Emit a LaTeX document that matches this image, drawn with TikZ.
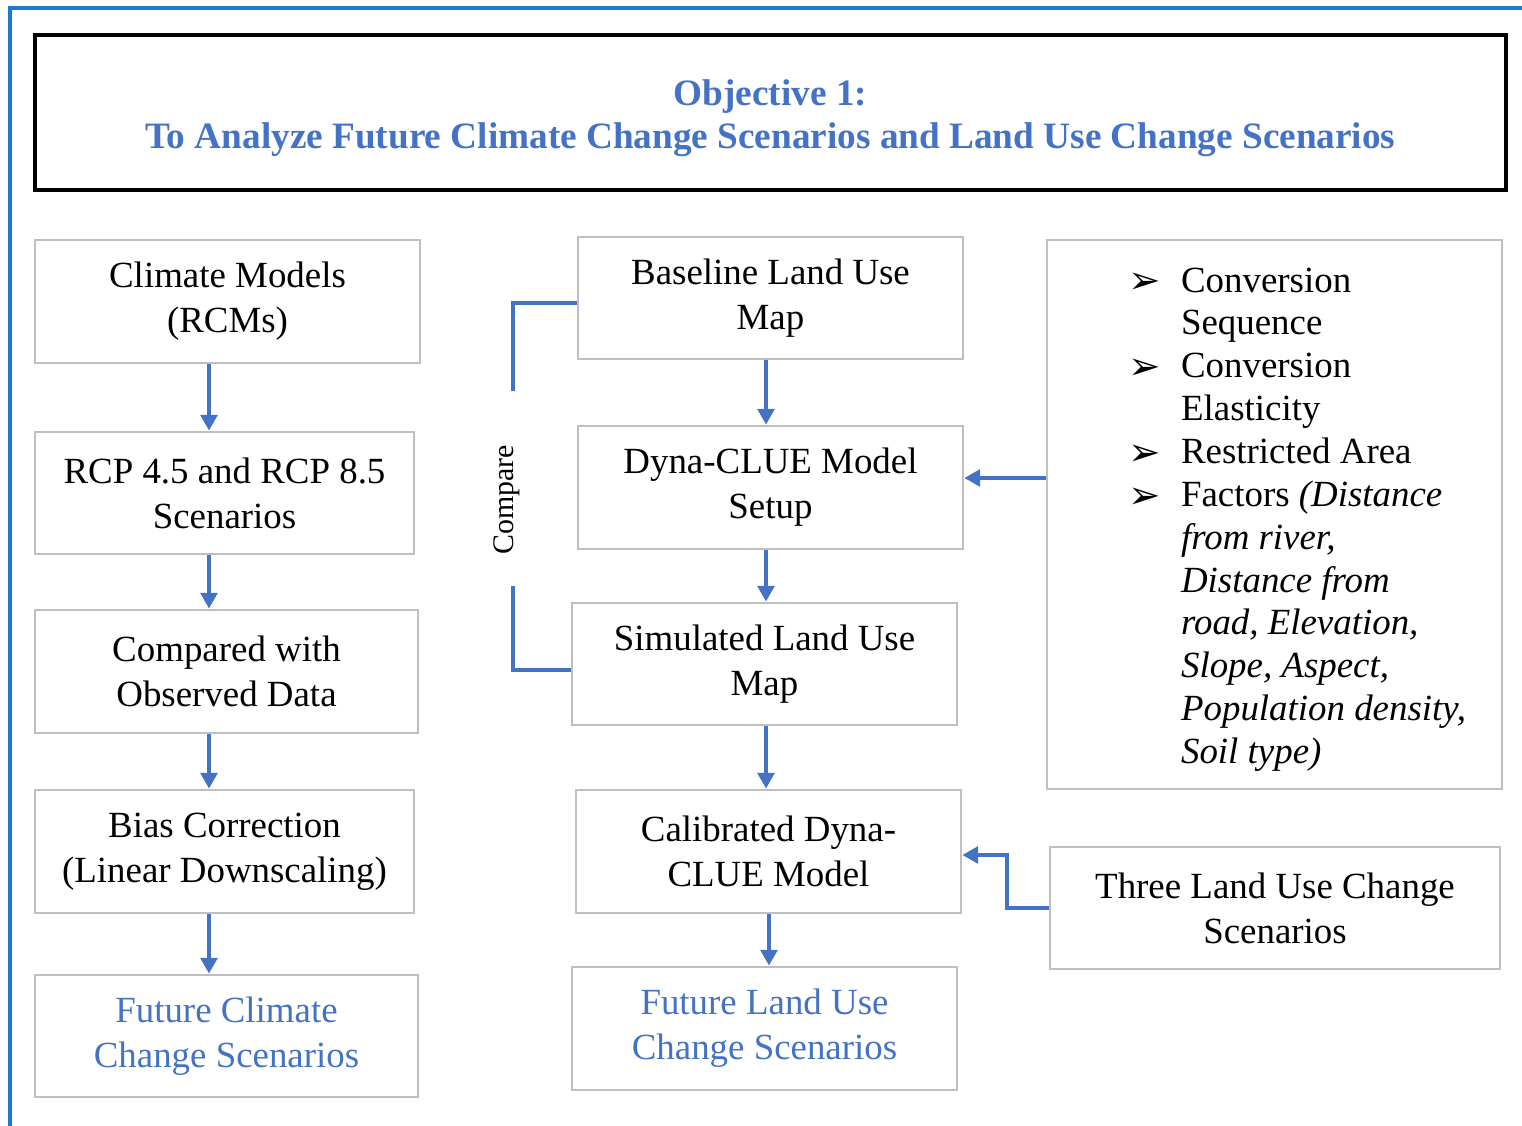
\documentclass[tikz,border=0pt]{standalone}
\usepackage{fontspec}
\setmainfont{Liberation Serif}
\newfontfamily\symfont{DejaVu Sans}
\usetikzlibrary{arrows.meta}
\definecolor{flowblue}{HTML}{4472C4}
\definecolor{frameblue}{HTML}{1A7ACB}
\definecolor{boxgray}{HTML}{BFBFBF}
\newcommand{\bul}{\makebox[30pt][l]{\raisebox{-1pt}{\symfont\fontsize{22}{20}\selectfont ➢}}}
\begin{document}
\begin{tikzpicture}[x=0.02cm,y=-0.02cm,
  box/.style={draw=boxgray, line width=1.6pt, align=center, inner sep=0pt,
    font=\fontsize{21}{25.5}\selectfont},
  titlebox/.style={draw=black, line width=2.3pt, inner sep=0pt},
  titletext/.style={align=center, inner sep=0pt, text=flowblue,
    font=\bfseries\fontsize{21.2}{24.4}\selectfont},
  arr/.style={draw=flowblue, line width=2.2pt, -{Triangle[length=9pt,width=9.5pt]}},
  link/.style={draw=flowblue, line width=2.2pt},
  result/.style={text=flowblue}]
\useasboundingbox (0,0) rectangle (1522,1126);
% page frame
\draw[frameblue, line width=1.8pt] (10,1140) -- (10,8) -- (1540,8);

% title
\node[titlebox, minimum width=29.42cm, minimum height=3.10cm] (title) at (770.5,112.5) {};
\node[titletext] (titletxt) at (770.5,118.5)
  {Objective 1:\\To Analyze Future Climate Change Scenarios and Land Use Change Scenarios};

% climate branch
\node[box, minimum width=7.70cm, minimum height=2.46cm] (c1) at (227.5,301.5) {Climate Models\\(RCMs)};
\node[box, minimum width=7.58cm, minimum height=2.44cm] (c2) at (224.5,493) {RCP 4.5 and RCP 8.5\\Scenarios};
\node[box, minimum width=7.66cm, minimum height=2.46cm] (c3) at (226.5,671.5) {Compared with\\Observed Data};
\node[box, minimum width=7.58cm, minimum height=2.46cm] (c4) at (224.5,851.5) {Bias Correction\\(Linear Downscaling)};
\node[box, result, minimum width=7.66cm, minimum height=2.44cm] (c5) at (226.5,1036) {Future Climate\\Change Scenarios};

% land use branch
\node[box, minimum width=7.70cm, minimum height=2.44cm] (m1) at (770.5,298) {Baseline Land Use\\Map};
\node[box, minimum width=7.70cm, minimum height=2.46cm] (m2) at (770.5,487.5) {Dyna-CLUE Model\\Setup};
\node[box, minimum width=7.70cm, minimum height=2.44cm] (m3) at (764.5,664) {Simulated Land Use\\Map};
\node[box, minimum width=7.70cm, minimum height=2.46cm] (m4) at (768.5,851.5) {Calibrated Dyna-\\CLUE Model};
\node[box, result, minimum width=7.70cm, minimum height=2.46cm] (m5) at (764.5,1028.5) {Future Land Use\\Change Scenarios};

% model inputs
\node[box, minimum width=9.10cm, minimum height=10.98cm] (r1) at (1274.5,514.5) {};
\node[anchor=base west, inner sep=0pt, font=\fontsize{21}{24.4}\selectfont] (factors) at (1128,292)
  {\begin{tabular}[t]{@{}l@{}l@{}}
   \bul & Conversion\\
        & Sequence\\
   \bul & Conversion\\
        & Elasticity\\
   \bul & Restricted Area\\
   \bul & Factors \textit{(Distance}\\
        & \textit{from river,}\\
        & \textit{Distance from}\\
        & \textit{road, Elevation,}\\
        & \textit{Slope, Aspect,}\\
        & \textit{Population density,}\\
        & \textit{Soil type)}
   \end{tabular}};
\node[box, minimum width=9.00cm, minimum height=2.44cm] (r2) at (1275,908) {Three Land Use Change\\Scenarios};

% connectors
\coordinate (lx) at (209,0);
\coordinate (mx) at (766,0);
\coordinate (my) at (769,0);
\draw[arr] (c1.south -| lx) -- (c2.north -| lx);
\draw[arr] (c2.south -| lx) -- (c3.north -| lx);
\draw[arr] (c3.south -| lx) -- (c4.north -| lx);
\draw[arr] (c4.south -| lx) -- (c5.north -| lx);

\draw[arr] (m1.south -| mx) -- (m2.north -| mx);
\draw[arr] (m2.south -| mx) -- (m3.north -| mx);
\draw[arr] (m3.south -| mx) -- (m4.north -| mx);
\draw[arr] (m4.south -| my) -- (m5.north -| my);

\coordinate (ay) at (0,478);
\draw[arr] (r1.west |- ay) -- (m2.east |- ay);
\coordinate (by) at (0,855);
\draw[arr] (r2.west) -- (1007,908) -- (1007,855) -- (m4.east |- by);

% compare bracket
\coordinate (cmpTop) at (513,391);
\coordinate (cmpBot) at (513,586);
\draw[link] (m1.west |- 0,303) -- (513,303) -- (cmpTop);
\draw[link] (cmpBot) -- (513,670) -- (m3.west |- 0,670);
\node[rotate=90, font=\fontsize{17}{20}\selectfont, inner sep=0pt] (cmp) at (507,500) {Compare};
\end{tikzpicture}
\end{document}
